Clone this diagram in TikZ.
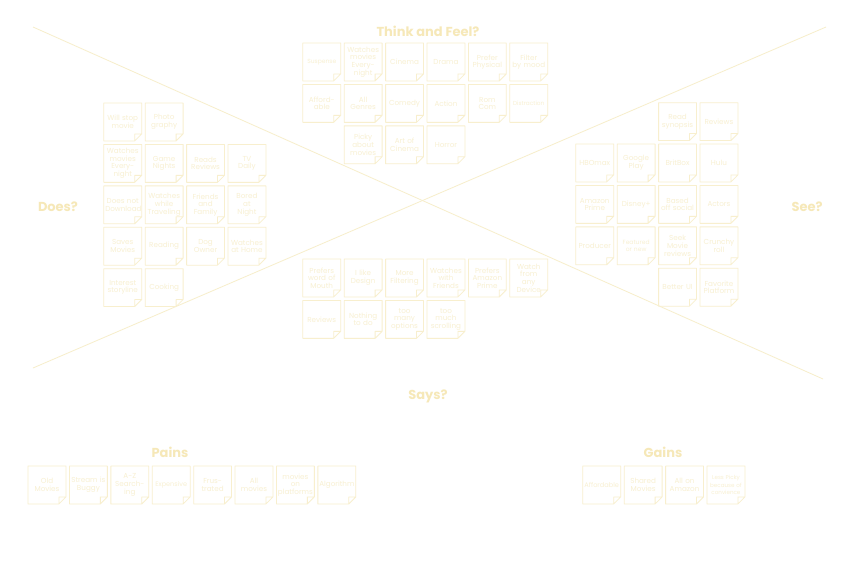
\documentclass[tikz,border=0pt]{standalone}
\usepackage{fontspec}
\setmainfont{Poppins}
\usetikzlibrary{positioning}
\definecolor{noteline}{RGB}{248,239,206}
\definecolor{notetext}{RGB}{248,240,210}
\definecolor{headtext}{RGB}{246,232,184}
\definecolor{crossline}{RGB}{247,238,203}
\tikzset{
    %Define style for sticky notes
    note/.style={
           rectangle,
           minimum width=37.5pt,
           minimum height=37.5pt,
           inner sep=0pt,
           text width=35pt,
           align=center,
           text=notetext,
           font=\fontsize{7.2}{7.6}\selectfont,
           append after command={\pgfextra{
               \draw[noteline, line width=0.8pt, line join=round]
                 (\tikzlastnode.north west) -- (\tikzlastnode.north east)
                 -- ([yshift=7pt]\tikzlastnode.south east)
                 -- ([xshift=-7pt]\tikzlastnode.south east)
                 -- (\tikzlastnode.south west) -- cycle
                 ([xshift=-7pt]\tikzlastnode.south east)
                 -- ([shift={(-7pt,7pt)}]\tikzlastnode.south east)
                 -- ([yshift=7pt]\tikzlastnode.south east);}}},
    % Define smaller text for long words
    shrink/.style={
           font=\fontsize{#1}{7.7}\selectfont},
    % Define style for headings
    head/.style={
           text=headtext,
           font=\bfseries\fontsize{13}{15}\selectfont},
    % Define style for the cross
    cross/.style={
           draw=crossline,
           line width=0.8pt}
}

\begin{document}
\begin{tikzpicture}[x=1pt, y=-1pt, node distance=3.5pt]
 \path[fill=white] (0,0) rectangle (854,568);
 %cross
    \coordinate (tl) at (33,27);
    \coordinate (tr) at (826,27);
    \coordinate (bl) at (33,368);
    \coordinate (br) at (823,379);
    \draw[cross] (tl) -- (br);
    \draw[cross] (tr) -- (bl);
 %headings
    \node[head] (think) at (428,31) {Think and Feel?};
    \node[head] (does) at (58,207) {Does?};
    \node[head] (see) at (807,207) {See?};
    \node[head] (says) at (428,396) {Says?};
    \node[head] (pains) at (170,452) {Pains};
    \node[head] (gains) at (663,452) {Gains};
 %think and feel
    \node[note, shrink=6] (tf11) at (321.75,62) {Suspense};
    \node[note, right=of tf11] (tf12) {Watches\\movies\\Every-\\night};
    \node[note, right=of tf12] (tf13) {Cinema};
    \node[note, right=of tf13] (tf14) {Drama};
    \node[note, right=of tf14] (tf15) {Prefer\\Physical};
    \node[note, right=of tf15] (tf16) {Filter\\by mood};
    \node[note, below=of tf11] (tf21) {Afford-\\able};
    \node[note, right=of tf21] (tf22) {All\\Genres};
    \node[note, right=of tf22] (tf23) {Comedy};
    \node[note, right=of tf23] (tf24) {Action};
    \node[note, right=of tf24] (tf25) {Rom\\Com};
    \node[note, shrink=5.8, right=of tf25] (tf26) {Distraction};
    \node[note, below=of tf22] (tf32) {Picky\\about\\movies};
    \node[note, right=of tf32] (tf33) {Art of\\Cinema};
    \node[note, right=of tf33] (tf34) {Horror};
 %does
    \node[note] (do11) at (122.75,122) {Will stop\\movie};
    \node[note, right=of do11] (do12) {Photo\\graphy};
    \node[note, below=of do11] (do21) {Watches\\movies\\Every-\\night};
    \node[note, right=of do21] (do22) {Game\\Nights};
    \node[note, right=of do22] (do23) {Reads\\Reviews};
    \node[note, right=of do23] (do24) {TV\\Daily};
    \node[note, below=of do21] (do31) {Does not\\Download};
    \node[note, right=of do31] (do32) {Watches\\while\\Traveling};
    \node[note, right=of do32] (do33) {Friends\\and\\Family};
    \node[note, right=of do33] (do34) {Bored\\at\\Night};
    \node[note, below=of do31] (do41) {Saves\\Movies};
    \node[note, right=of do41] (do42) {Reading};
    \node[note, right=of do42] (do43) {Dog\\Owner};
    \node[note, right=of do43] (do44) {Watches\\at Home};
    \node[note, below=of do41] (do51) {Interest\\storyline};
    \node[note, right=of do51] (do52) {Cooking};
 %see
    \node[note] (se21) at (594.75,163) {HBOmax};
    \node[note, right=of se21] (se22) {Google\\Play};
    \node[note, right=of se22] (se23) {BritBox};
    \node[note, right=of se23] (se24) {Hulu};
    \node[note, above=of se23] (se13) {Read\\synopsis};
    \node[note, above=of se24] (se14) {Reviews};
    \node[note, below=of se21] (se31) {Amazon\\Prime};
    \node[note, right=of se31] (se32) {Disney+};
    \node[note, right=of se32] (se33) {Based\\off social};
    \node[note, right=of se33] (se34) {Actors};
    \node[note, below=of se31] (se41) {Producer};
    \node[note, shrink=6, right=of se41] (se42) {Featured\\or new};
    \node[note, right=of se42] (se43) {Seek\\Movie\\reviews};
    \node[note, right=of se43] (se44) {Crunchy\\roll};
    \node[note, below=of se43] (se53) {Better UI};
    \node[note, right=of se53] (se54) {Favorite\\Platform};
 %says
    \node[note] (sa11) at (321.75,278) {Prefers\\word of\\Mouth};
    \node[note, right=of sa11] (sa12) {I like\\Design};
    \node[note, right=of sa12] (sa13) {More\\Filtering};
    \node[note, right=of sa13] (sa14) {Watches\\with\\Friends};
    \node[note, right=of sa14] (sa15) {Prefers\\Amazon\\Prime};
    \node[note, right=of sa15] (sa16) {Watch\\from\\any\\Device};
    \node[note, below=of sa11] (sa21) {Reviews};
    \node[note, right=of sa21] (sa22) {Nothing\\to do};
    \node[note, right=of sa22] (sa23) {too many\\options};
    \node[note, right=of sa23] (sa24) {too\\much\\scrolling};
 %pains
    \node[note] (pa1) at (47,485) {Old\\Movies};
    \node[note, right=of pa1] (pa2) {Stream is\\Buggy};
    \node[note, right=of pa2] (pa3) {A-Z\\Search-\\ing};
    \node[note, shrink=6.5, right=of pa3] (pa4) {Expensive};
    \node[note, right=of pa4] (pa5) {Frus-\\trated};
    \node[note, right=of pa5] (pa6) {All\\movies};
    \node[note, right=of pa6] (pa7) {movies\\on\\platforms};
    \node[note, right=of pa7] (pa8) {Algorithm};
 %gains
    \node[note, shrink=6.6] (ga1) at (601.75,485) {Affordable};
    \node[note, right=of ga1] (ga2) {Shared\\Movies};
    \node[note, right=of ga2] (ga3) {All on\\Amazon};
    \node[note, shrink=5.6, text width=37pt, right=of ga3] (ga4) {Less Picky\\because~of\\convience};
\end{tikzpicture}
\end{document}
